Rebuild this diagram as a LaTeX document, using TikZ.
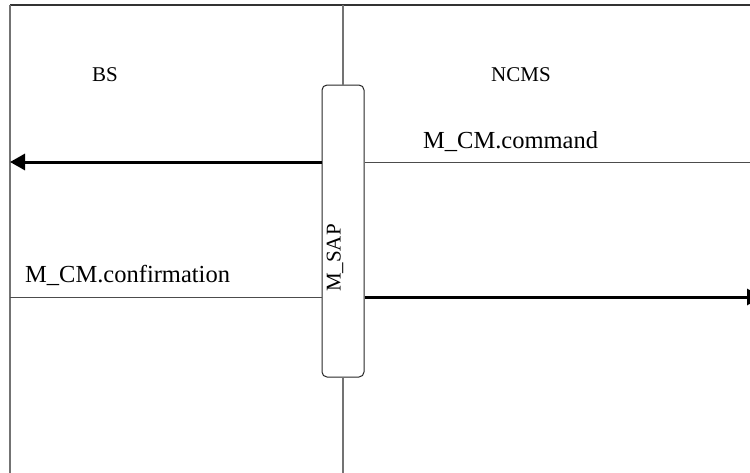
\documentclass[tikz,border=0pt]{standalone}
\usepackage{fontspec}
\setmainfont{Liberation Serif}
\usetikzlibrary{arrows.meta}
\begin{document}
\begin{tikzpicture}[x=1pt,y=-1pt,
  frame/.style={line width=1.2pt,draw=black!80},
  life/.style={line width=1.6pt,draw=black!55},
  thin/.style={line width=1pt,draw=black!70},
  msg/.style={line width=3pt,draw=black,-{Triangle[length=15pt,width=16pt]}},
  lbl/.style={inner sep=0pt,anchor=base west,font=\fontsize{21}{25}\selectfont},
  mlbl/.style={inner sep=0pt,anchor=base west,font=\fontsize{24.5}{28}\selectfont}]
\useasboundingbox (0,0) rectangle (750,472);
% frame
\coordinate (tl) at (10,5);
\coordinate (tr) at (752,5);
\coordinate (bl) at (10,474);
\draw[frame] (tl) -- (tr);
\draw[life] (tl) -- (bl);
% SAP box
\node[draw=black!85,line width=1pt,rounded corners=5pt,minimum width=42pt,minimum height=292pt,inner sep=0pt] (sap) at (343,231) {};
\node[rotate=90,inner sep=0pt,font=\fontsize{21}{25}\selectfont] (saplbl) at (335,258) {M\_SAP};
\coordinate (mtop) at (343,5);
\coordinate (mbot) at (343,474);
\draw[life] (mtop) -- (sap.north);
\draw[life] (sap.south) -- (mbot);
% labels
\node[lbl] (bs) at (92,81) {BS};
\node[lbl] (ncms) at (491,81) {NCMS};
\node[mlbl] (cmd) at (423,148) {M\_CM.command};
\node[mlbl] (conf) at (25,282) {M\_CM.confirmation};
% messages
\coordinate (cmdL) at (10,162);
\coordinate (cmdR) at (752,162);
\coordinate (confL) at (10,297);
\coordinate (confR) at (762,297);
\draw[msg] (sap.west |- cmdL) -- (cmdL);
\draw[thin] (sap.east |- cmdR) -- (cmdR);
\draw[thin] (confL) -- (sap.west |- confL);
\draw[msg] (sap.east |- confR) -- (confR);
\end{tikzpicture}
\end{document}
